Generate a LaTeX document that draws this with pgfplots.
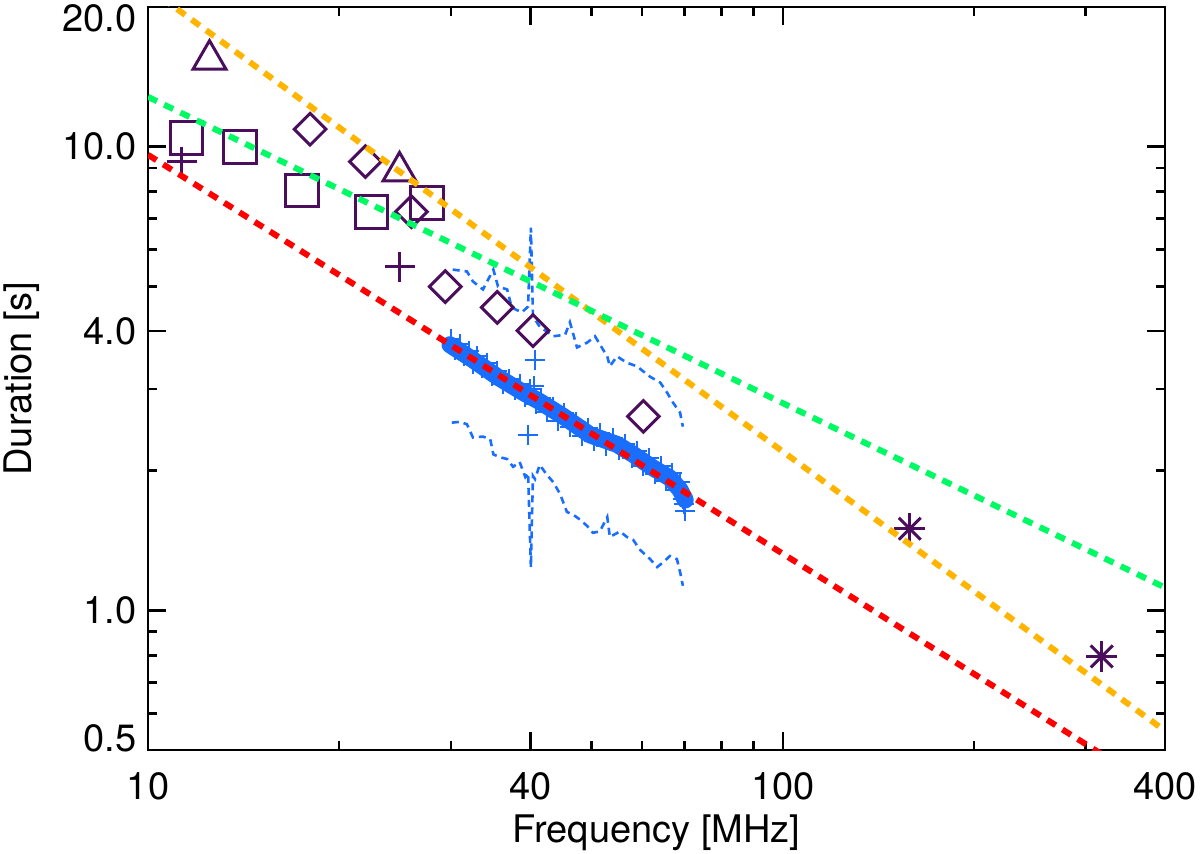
\documentclass[border=0pt]{standalone}
\usepackage{pgfplots}
\pgfplotsset{compat=1.18}
\usepackage{fontspec}
\setmainfont{TeX Gyre Heros}
\definecolor{mpurple}{RGB}{74,14,92}
\definecolor{morange}{RGB}{255,180,0}
\definecolor{mgreen}{RGB}{0,250,100}
\definecolor{mred}{RGB}{255,0,0}
\definecolor{mblue}{RGB}{25,110,255}
\begin{document}
\fontsize{19}{22}\selectfont
\begin{tikzpicture}
\begin{axis}[
  scale only axis, width=508.5pt, height=371.5pt,
  xmode=log, ymode=log, xmin=10, xmax=400, ymin=0.5, ymax=20,
  xtick={10,40,100,400}, xticklabels={10,40,100,400},
  minor xtick={20,30,50,60,70,80,90,200,300},
  ytick={0.5,1,4,10,20}, yticklabels={,1.0,4.0,10.0,},
  minor ytick={0.6,0.7,0.8,0.9,2,3,5,6,7,8,9},
  major tick length=9pt, minor tick length=4.5pt,
  tick align=inside, tick pos=both,
  axis line style={line width=1.3pt},
  tick style={black, line width=1.3pt},
  xticklabel style={inner sep=0pt, yshift=-11pt, font=\fontsize{19}{22}\selectfont},
  yticklabel style={inner sep=0pt, xshift=-5.5pt, font=\fontsize{19}{22}\selectfont},
  clip mode=individual,
]
% blue upper envelope
\addplot[mblue, line width=1.3pt, dash pattern=on 3.5pt off 2.5pt] coordinates {
(30.2,5.43) (31.8,5.38) (32.5,5.12) (33.7,4.92) (35.0,5.43) (35.6,4.99) (36.8,4.92)
(37.4,4.50) (38.8,4.39) (39.7,4.52) (40.1,6.69) (40.4,4.30) (40.7,4.24) (41.4,4.09)
(43.5,3.90) (45.4,3.93) (46.2,4.18) (47.4,3.69) (49.2,3.78) (50.6,3.90) (52.1,3.65)
(52.9,3.53) (53.4,3.36) (54.8,3.53) (56.8,3.42) (58.9,3.36) (61.8,3.19) (64.1,3.10)
(65.7,2.95) (67.1,2.81) (68.9,2.67) (69.6,2.49)};
% blue lower envelope
\addplot[mblue, line width=1.3pt, dash pattern=on 3.5pt off 2.5pt] coordinates {
(30.1,2.54) (31.0,2.55) (31.8,2.52) (32.5,2.36) (33.7,2.37) (34.6,2.34) (35.0,2.17)
(35.8,2.14) (36.8,2.12) (37.6,2.04) (38.5,2.09) (39.3,1.94) (39.7,1.98) (40.1,1.24)
(40.4,1.95) (40.7,1.92) (41.4,2.06) (42.5,1.96) (43.5,1.89) (44.6,1.78) (45.7,1.63)
(46.7,1.61) (47.9,1.57) (49.2,1.52) (50.2,1.47) (51.5,1.48) (52.9,1.59) (53.4,1.44)
(55.4,1.48) (56.8,1.44) (58.1,1.42) (59.6,1.35) (61.8,1.29) (63.4,1.24) (64.8,1.27)
(66.4,1.31) (68.1,1.29) (68.9,1.21) (69.6,1.13)};
% purple symbols
\addplot[only marks, mark=square, mark size=8.2pt, mark options={draw=mpurple, line width=1.5pt, fill=none}] coordinates {
(11.5,10.45) (13.97,9.98) (17.5,8.04) (22.5,7.24) (27.5,7.57)};
\addplot[only marks, mark=triangle, mark size=9.5pt, mark options={draw=mpurple, line width=1.5pt, fill=none}] coordinates {
(12.5,15.4) (24.9,8.84)};
\addplot[only marks, mark=+, mark size=7.5pt, mark options={draw=mpurple, line width=1.5pt}] coordinates {
(11.3,9.28) (24.9,5.51)};
\addplot[only marks, mark=square, mark size=5.6pt, mark options={draw=mpurple, line width=1.5pt, fill=none, rotate=45}] coordinates {
(18.0,10.9) (22.0,9.28) (26.0,7.24) (29.4,4.99) (35.5,4.5) (40.4,4.01) (60.3,2.62)};
\addplot[only marks, mark=+, mark size=7.75pt, mark options={draw=mpurple, line width=1.5pt}] coordinates {
(158.5,1.50) (318,0.796)};
\addplot[only marks, mark=x, mark size=7.75pt, mark options={draw=mpurple, line width=1.5pt}] coordinates {
(158.5,1.50) (318,0.796)};
% blue band
\addplot[mblue, line width=8.5pt, line cap=round, line join=round] coordinates {
(29.9,3.74) (32.5,3.47) (35.5,3.19) (39.0,2.95) (41.4,2.82) (45.1,2.62) (49.7,2.39)
(54.8,2.28) (58.1,2.17) (62.4,2.03) (66.4,1.93) (68.9,1.82) (70.2,1.73)};
\addplot[only marks, mark=+, mark size=5pt, mark options={draw=mblue, line width=1pt}] coordinates {
(30.0,3.84) (30.5,3.64) (31.0,3.76) (31.5,3.53) (32.0,3.63) (32.5,3.40) (33.0,3.53)
(33.6,3.33) (34.2,3.41) (34.8,3.20) (35.5,3.28) (36.2,3.08) (37.0,3.16) (37.8,2.98)
(38.5,3.08) (39.3,2.88) (40.0,3.00) (40.8,2.78) (41.6,2.87) (42.5,2.68) (43.4,2.75)
(44.3,2.56) (45.2,2.67) (46.2,2.48) (47.2,2.55) (48.2,2.38) (49.3,2.47) (50.4,2.32)
(51.5,2.41) (52.7,2.26) (54.0,2.35) (55.2,2.22) (56.5,2.29) (57.8,2.13) (59.0,2.21)
(60.3,2.05) (61.6,2.13) (62.9,1.97) (64.2,2.05) (65.5,1.90) (66.8,1.98) (67.8,1.82)
(68.8,1.89) (69.5,1.74) (70.0,1.70) (70.2,1.64)
(40.7,3.47) (39.7,2.39) (40.5,3.05)};
% fitted lines
\addplot[morange, line width=3pt, dash pattern=on 5pt off 4pt] coordinates {(10,22) (400,0.55)};
\addplot[mgreen, line width=3pt, dash pattern=on 5pt off 4pt] coordinates {(10,12.8) (400,1.12)};
\addplot[mred, line width=3pt, dash pattern=on 5pt off 4pt] coordinates {(10,9.6) (400,0.402)};
\end{axis}
\node[anchor=east, inner sep=0pt] at ([xshift=-5.5pt,yshift=-5.5pt]current axis.north west) {20.0};
\node[anchor=east, inner sep=0pt] at ([xshift=-5.5pt,yshift=6pt]current axis.south west) {0.5};
\node[anchor=north, inner sep=0pt] at ([yshift=-32pt]current axis.south) {Frequency [MHz]};
\node[rotate=90, anchor=north, inner sep=0pt] at ([xshift=-72.5pt]current axis.west) {Duration [s]};
\pgfresetboundingbox
\path ([xshift=-74pt,yshift=-51.5pt]current axis.south west) rectangle ([xshift=17.5pt,yshift=3.5pt]current axis.north east);
\end{tikzpicture}
\end{document}
